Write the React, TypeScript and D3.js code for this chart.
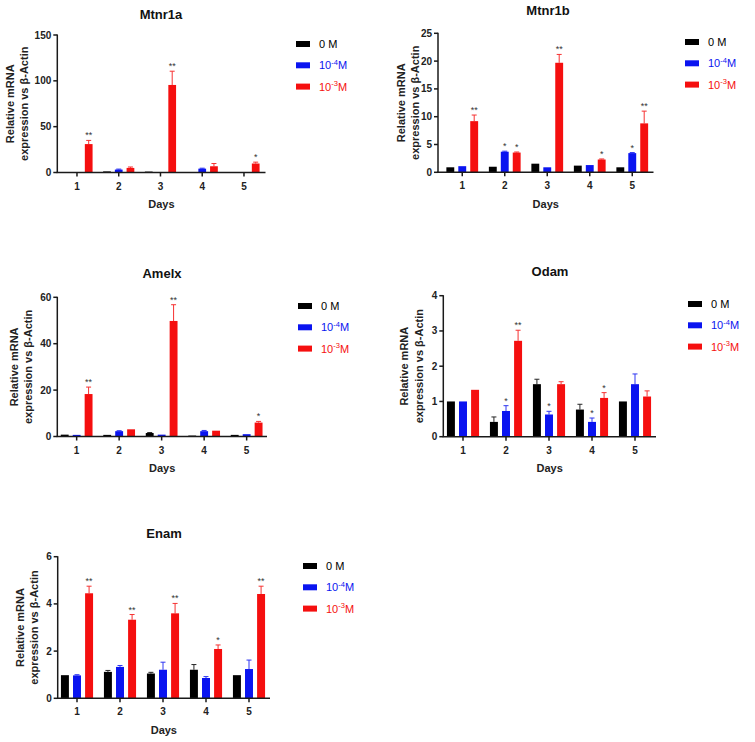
import * as d3 from 'd3'

const days = ['1', '2', '3', '4', '5']
const doses = ['0 M', '10-4M', '10-3M']
const doseColors = ['#000000', '#0a14f0', '#f50f0f']

// Mtnr1a
const mtnr1aCtrl = [0.3, 1.2, 1.0, 0.3, 0.3]
const mtnr1aLow = [0.5, 3.2, 0.5, 4.2, 0.3]
const mtnr1aHigh = [31, 5, 95.5, 6.8, 9.8]
const mtnr1aErrCtrl = [0, 0, 0, 0, 0]
const mtnr1aErrLow = [0, 0.5, 0, 0.5, 0]
const mtnr1aErrHigh = [4, 1, 15, 3, 1.5]
const mtnr1aStarsLow = ['', '', '', '', '']
const mtnr1aStarsHigh = ['**', '', '**', '', '*']

// Mtnr1b
const mtnr1bCtrl = [0.9, 1.0, 1.55, 1.2, 0.9]
const mtnr1bLow = [1.1, 3.7, 0.9, 1.3, 3.45]
const mtnr1bHigh = [9.2, 3.55, 19.7, 2.3, 8.8]
const mtnr1bErrCtrl = [0, 0, 0, 0, 0]
const mtnr1bErrLow = [0, 0.1, 0, 0, 0.1]
const mtnr1bErrHigh = [1.1, 0.1, 1.5, 0.1, 2.2]
const mtnr1bStarsLow = ['', '*', '', '', '*']
const mtnr1bStarsHigh = ['**', '*', '**', '*', '**']

// Amelx
const amelxCtrl = [0.8, 0.7, 1.5, 0.4, 0.7]
const amelxLow = [0.7, 2.3, 0.8, 2.3, 1.0]
const amelxHigh = [18.3, 3.1, 49.8, 2.5, 6.0]
const amelxErrCtrl = [0, 0, 0.2, 0, 0]
const amelxErrLow = [0, 0.2, 0, 0.3, 0]
const amelxErrHigh = [3, 0, 7, 0, 0.5]
const amelxStarsLow = ['', '', '', '', '']
const amelxStarsHigh = ['**', '', '**', '', '*']

// Odam
const odamCtrl = [1.0, 0.42, 1.49, 0.77, 1.0]
const odamLow = [1.0, 0.73, 0.63, 0.42, 1.49]
const odamHigh = [1.33, 2.72, 1.49, 1.1, 1.14]
const odamErrCtrl = [0, 0.14, 0.14, 0.15, 0]
const odamErrLow = [0, 0.15, 0.09, 0.11, 0.29]
const odamErrHigh = [0, 0.3, 0.07, 0.15, 0.16]
const odamStarsLow = ['', '*', '*', '*', '']
const odamStarsHigh = ['', '**', '', '*', '']

// Enam
const enamCtrl = [0.98, 1.12, 1.05, 1.21, 0.98]
const enamLow = [0.97, 1.33, 1.21, 0.86, 1.24]
const enamHigh = [4.45, 3.33, 3.6, 2.09, 4.42]
const enamErrCtrl = [0, 0.06, 0.05, 0.22, 0]
const enamErrLow = [0.03, 0.06, 0.32, 0.06, 0.38]
const enamErrHigh = [0.3, 0.22, 0.42, 0.17, 0.33]
const enamStarsLow = ['', '', '', '', '']
const enamStarsHigh = ['**', '**', '**', '*', '**']

interface PanelSpec {
  title: string
  values: number[][]
  errors: number[][]
  stars: string[][]
  yMax: number
  yTicks: number[]
  // layout
  x0: number
  bandStart: number
  step: number
  xEnd: number
  yTop: number
  yBot: number
  titleX: number
  titleY: number
  labelX: number
  legendX: number
  legendY: number
}

const panels: PanelSpec[] = [
  {
    title: 'Mtnr1a',
    values: [mtnr1aCtrl, mtnr1aLow, mtnr1aHigh],
    errors: [mtnr1aErrCtrl, mtnr1aErrLow, mtnr1aErrHigh],
    stars: [[], mtnr1aStarsLow, mtnr1aStarsHigh],
    yMax: 150, yTicks: [0, 50, 100, 150],
    x0: 57.3, bandStart: 56.1, step: 41.75, xEnd: 265.5, yTop: 35, yBot: 172.5,
    titleX: 161, titleY: 19, labelX: 9.5, legendX: 296, legendY: 44,
  },
  {
    title: 'Mtnr1b',
    values: [mtnr1bCtrl, mtnr1bLow, mtnr1bHigh],
    errors: [mtnr1bErrCtrl, mtnr1bErrLow, mtnr1bErrHigh],
    stars: [[], mtnr1bStarsLow, mtnr1bStarsHigh],
    yMax: 25, yTicks: [0, 5, 10, 15, 20, 25],
    x0: 438, bandStart: 441, step: 42.5, xEnd: 653.5, yTop: 33.3, yBot: 172.3,
    titleX: 548, titleY: 15, labelX: 400.5, legendX: 685, legendY: 42,
  },
  {
    title: 'Amelx',
    values: [amelxCtrl, amelxLow, amelxHigh],
    errors: [amelxErrCtrl, amelxErrLow, amelxErrHigh],
    stars: [[], amelxStarsLow, amelxStarsHigh],
    yMax: 60, yTicks: [0, 20, 40, 60],
    x0: 57.3, bandStart: 55.4, step: 42.5, xEnd: 267, yTop: 297.3, yBot: 436.5,
    titleX: 162, titleY: 278, labelX: 13.5, legendX: 298, legendY: 306,
  },
  {
    title: 'Odam',
    values: [odamCtrl, odamLow, odamHigh],
    errors: [odamErrCtrl, odamErrLow, odamErrHigh],
    stars: [[], odamStarsLow, odamStarsHigh],
    yMax: 4, yTicks: [0, 1, 2, 3, 4],
    x0: 443.3, bandStart: 441.5, step: 43, xEnd: 656, yTop: 295.7, yBot: 436.7,
    titleX: 550, titleY: 276, labelX: 404, legendX: 688, legendY: 304,
  },
  {
    title: 'Enam',
    values: [enamCtrl, enamLow, enamHigh],
    errors: [enamErrCtrl, enamErrLow, enamErrHigh],
    stars: [[], enamStarsLow, enamStarsHigh],
    yMax: 6, yTicks: [0, 2, 4, 6],
    x0: 57.7, bandStart: 55.5, step: 43, xEnd: 270, yTop: 556.7, yBot: 698.3,
    titleX: 164, titleY: 538, labelX: 19.5, legendX: 303, legendY: 566,
  },
]

const FONT = '"Liberation Sans", Arial, sans-serif'
const AXIS = '#1a1a1a'

function LegendLabel({ label, color }: { label: string; color: string }) {
  if (label === '0 M') return <tspan fill={color}>0 M</tspan>
  const exp = label.slice(2, 4)
  return (
    <tspan fill={color}>
      10<tspan fontSize={7.5} dy={-4.5}>{exp}</tspan><tspan dy={4.5}>M</tspan>
    </tspan>
  )
}

function Panel({ p }: { p: PanelSpec }) {
  const x = d3.scaleBand<string>()
    .domain(days)
    .range([p.bandStart, p.bandStart + p.step * days.length])
  const xSub = d3.scaleBand<string>()
    .domain(doses)
    .range([0, x.bandwidth()])
    .paddingInner(0.34)
    .paddingOuter(0.45)
  const y = d3.scaleLinear().domain([0, p.yMax]).range([p.yBot, p.yTop])
  const bw = xSub.bandwidth()

  return (
    <g fontFamily={FONT}>
      <text x={p.titleX} y={p.titleY} textAnchor="middle" fontSize={13} fontWeight="bold" fill="#111">
        {p.title}
      </text>

      {/* bars + error bars */}
      {doses.map((dose, si) => (
        <g key={dose}>
          {days.map((day, di) => {
            const v = p.values[si][di]
            const e = p.errors[si][di]
            const bx = (x(day) ?? 0) + (xSub(dose) ?? 0)
            const cx = bx + bw / 2
            const top = y(v + e)
            const star = p.stars[si][di]
            return (
              <g key={day}>
                <rect x={bx} y={y(v)} width={bw} height={y(0) - y(v)} fill={doseColors[si]} />
                {e > 0 && (
                  <g stroke={doseColors[si]} strokeWidth={1} opacity={0.85}>
                    <line x1={cx} x2={cx} y1={y(v)} y2={top} />
                    <line x1={cx - 2.5} x2={cx + 2.5} y1={top} y2={top} />
                  </g>
                )}
                {star && (
                  <text x={cx} y={top - 2} textAnchor="middle" fontSize={9} fill="#333">{star}</text>
                )}
              </g>
            )
          })}
        </g>
      ))}

      {/* y axis */}
      <line x1={p.x0} x2={p.x0} y1={p.yTop - 0.5} y2={p.yBot} stroke={AXIS} strokeWidth={1.5} />
      {p.yTicks.map(t => (
        <g key={t}>
          <line x1={p.x0 - 4} x2={p.x0} y1={y(t)} y2={y(t)} stroke={AXIS} strokeWidth={1.5} />
          <text x={p.x0 - 6} y={y(t) + 3.5} textAnchor="end" fontSize={10} fontWeight="bold" fill="#222">{t}</text>
        </g>
      ))}

      {/* x axis */}
      <line x1={p.x0 - 0.75} x2={p.xEnd} y1={p.yBot} y2={p.yBot} stroke={AXIS} strokeWidth={1.5} />
      {days.map(day => {
        const cx = (x(day) ?? 0) + x.bandwidth() / 2
        return (
          <g key={day}>
            <line x1={cx} x2={cx} y1={p.yBot} y2={p.yBot + 4} stroke={AXIS} strokeWidth={1.5} />
            <text x={cx} y={p.yBot + 17} textAnchor="middle" fontSize={10} fontWeight="bold" fill="#222">{day}</text>
          </g>
        )
      })}
      <text x={(p.x0 + p.xEnd) / 2} y={p.yBot + 35.5} textAnchor="middle" fontSize={11} fontWeight="bold" fill="#222">
        Days
      </text>

      {/* y label */}
      <text
        transform={`translate(${p.labelX + 4},${(p.yTop + p.yBot) / 2}) rotate(-90)`}
        textAnchor="middle" fontSize={11} fontWeight="bold" fill="#222"
      >
        <tspan x={0} dy={0}>Relative mRNA</tspan>
        <tspan x={0} dy={14.5}>expression vs β-Actin</tspan>
      </text>

      {/* legend */}
      {doses.map((dose, si) => {
        const ly = p.legendY + si * 21.3
        return (
          <g key={dose}>
            <rect x={p.legendX} y={ly - 3} width={14} height={6} fill={doseColors[si]} />
            <text x={p.legendX + 23} y={ly + 4} fontSize={11}>
              <LegendLabel label={dose} color={doseColors[si]} />
            </text>
          </g>
        )
      })}
    </g>
  )
}

export default function App() {
  return (
    <svg width={755} height={742} style={{ position: 'absolute', left: 0, top: 0, background: '#fff' }}>
      {panels.map(p => <Panel key={p.title} p={p} />)}
    </svg>
  )
}
